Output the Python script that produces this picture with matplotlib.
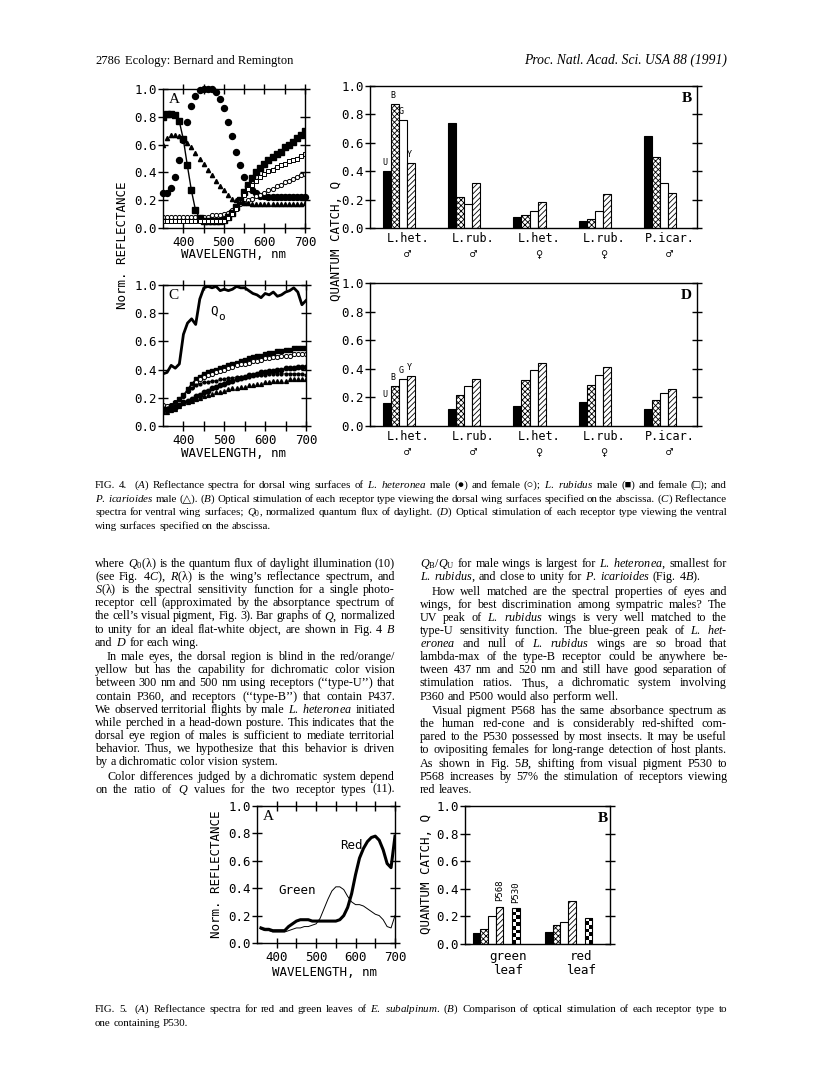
import numpy as np
import matplotlib
matplotlib.use("Agg")
import matplotlib.pyplot as plt

W, H = 816, 1082
plt.rcParams['mathtext.fontset'] = 'custom'
plt.rcParams['mathtext.rm'] = 'Liberation Serif'
plt.rcParams['mathtext.it'] = 'Liberation Serif:italic'
plt.rcParams['mathtext.bf'] = 'Liberation Serif:bold'
plt.rcParams['hatch.linewidth'] = 0.6

MONO = ['DejaVu Sans Mono', 'DejaVu Sans']
SERIF = ['Liberation Serif', 'DejaVu Serif', 'DejaVu Sans']

# ---- Fig 4A / 4C: reflectance spectra (nm, normalized) ----
wl = [350, 360, 370, 380, 390, 400, 410, 420, 430, 440, 450, 460, 470, 480,
      490, 500, 510, 520, 530, 540, 550, 560, 570, 580, 590, 600, 610, 620,
      630, 640, 650, 660, 670, 680, 690, 700]

# dorsal (4A)
het_m_dorsal = [0.25, 0.25, 0.29, 0.37, 0.49, 0.63, 0.76, 0.88, 0.95, 0.99, 1.00, 1.00,
                1.00, 0.98, 0.93, 0.86, 0.76, 0.66, 0.55, 0.45, 0.37, 0.30, 0.27, 0.25,
                0.23, 0.23, 0.22, 0.22, 0.22, 0.22, 0.22, 0.22, 0.22, 0.22, 0.22, 0.22]
het_f_dorsal = [0.08, 0.08, 0.08, 0.08, 0.08, 0.08, 0.08, 0.08, 0.08, 0.08, 0.08, 0.08,
                0.09, 0.09, 0.09, 0.10, 0.11, 0.13, 0.15, 0.17, 0.18, 0.20, 0.21, 0.23,
                0.24, 0.25, 0.27, 0.28, 0.30, 0.31, 0.33, 0.34, 0.35, 0.37, 0.38, 0.39]
rub_m_dorsal = [0.80, 0.82, 0.82, 0.81, 0.77, 0.64, 0.45, 0.27, 0.13, 0.07, 0.05, 0.05,
                0.05, 0.05, 0.05, 0.06, 0.08, 0.11, 0.15, 0.20, 0.26, 0.31, 0.36, 0.40,
                0.43, 0.46, 0.49, 0.51, 0.53, 0.55, 0.58, 0.60, 0.62, 0.65, 0.67, 0.70]
rub_f_dorsal = [0.05, 0.05, 0.05, 0.05, 0.05, 0.05, 0.05, 0.05, 0.05, 0.05, 0.05, 0.05,
                0.05, 0.05, 0.05, 0.05, 0.07, 0.10, 0.14, 0.19, 0.24, 0.28, 0.31, 0.34,
                0.37, 0.39, 0.41, 0.42, 0.44, 0.45, 0.46, 0.48, 0.49, 0.50, 0.52, 0.53]
icar_dorsal = [0.60, 0.65, 0.67, 0.67, 0.66, 0.64, 0.61, 0.58, 0.54, 0.50, 0.46, 0.42,
               0.38, 0.34, 0.30, 0.27, 0.24, 0.21, 0.20, 0.19, 0.18, 0.18, 0.17, 0.17,
               0.17, 0.17, 0.17, 0.17, 0.17, 0.17, 0.17, 0.17, 0.17, 0.17, 0.17, 0.18]

# ventral (4C)
q0_daylight = [0.37, 0.38, 0.43, 0.41, 0.44, 0.65, 0.73, 0.76, 0.72, 0.90, 0.98, 0.99,
               0.98, 0.99, 0.96, 0.97, 0.96, 0.97, 0.99, 0.98, 0.98, 0.96, 0.94, 0.93,
               0.91, 0.94, 0.93, 0.95, 0.92, 0.93, 0.95, 0.96, 0.98, 0.95, 0.86, 0.89]
rub_m_ventral = [0.12, 0.12, 0.14, 0.16, 0.19, 0.22, 0.26, 0.30, 0.33, 0.35, 0.37, 0.38,
                 0.39, 0.40, 0.41, 0.42, 0.43, 0.44, 0.45, 0.46, 0.47, 0.48, 0.49, 0.50,
                 0.50, 0.51, 0.52, 0.52, 0.53, 0.53, 0.54, 0.54, 0.55, 0.55, 0.55, 0.55]
het_f_ventral = [0.15, 0.14, 0.15, 0.17, 0.19, 0.21, 0.25, 0.28, 0.31, 0.33, 0.35, 0.36,
                 0.37, 0.38, 0.39, 0.40, 0.41, 0.42, 0.43, 0.44, 0.44, 0.45, 0.46, 0.46,
                 0.47, 0.48, 0.48, 0.49, 0.49, 0.50, 0.50, 0.50, 0.51, 0.51, 0.51, 0.51]
het_m_ventral = [0.11, 0.11, 0.12, 0.13, 0.15, 0.17, 0.18, 0.19, 0.21, 0.22, 0.24, 0.25,
                 0.27, 0.28, 0.29, 0.30, 0.31, 0.32, 0.33, 0.34, 0.35, 0.36, 0.36, 0.37,
                 0.38, 0.38, 0.39, 0.39, 0.40, 0.40, 0.41, 0.41, 0.41, 0.42, 0.42, 0.42]
rub_f_ventral = [0.13, 0.13, 0.15, 0.17, 0.19, 0.21, 0.25, 0.27, 0.29, 0.30, 0.31, 0.31,
                 0.32, 0.32, 0.33, 0.33, 0.34, 0.34, 0.35, 0.35, 0.35, 0.35, 0.36, 0.36,
                 0.36, 0.36, 0.37, 0.37, 0.37, 0.37, 0.37, 0.37, 0.37, 0.37, 0.37, 0.36]
icar_ventral = [0.10, 0.10, 0.11, 0.12, 0.14, 0.16, 0.17, 0.18, 0.19, 0.20, 0.21, 0.22,
                0.23, 0.24, 0.24, 0.25, 0.26, 0.27, 0.27, 0.28, 0.28, 0.29, 0.29, 0.30,
                0.30, 0.31, 0.31, 0.32, 0.32, 0.32, 0.32, 0.33, 0.33, 0.33, 0.33, 0.33]

# ---- Fig 4B / 4D: quantum catch per receptor type ----
wing_labels = ['L.het.\n♂', 'L.rub.\n♂', 'L.het.\n♀', 'L.rub.\n♀', 'P.icar.\n♂']
receptor_letters = ['U', 'B', 'G', 'Y']
dorsal_U = [0.40, 0.74, 0.08, 0.05, 0.65]
dorsal_B = [0.87, 0.22, 0.09, 0.06, 0.50]
dorsal_G = [0.76, 0.17, 0.12, 0.12, 0.32]
dorsal_Y = [0.46, 0.32, 0.18, 0.24, 0.25]
ventral_U = [0.16, 0.12, 0.14, 0.17, 0.12]
ventral_B = [0.28, 0.22, 0.32, 0.29, 0.18]
ventral_G = [0.33, 0.28, 0.39, 0.36, 0.23]
ventral_Y = [0.35, 0.33, 0.44, 0.41, 0.26]

# ---- Fig 5A: leaf spectra ----
wl_leaf = [360, 370, 380, 390, 400, 410, 420, 430, 440, 450, 460, 470, 480, 490,
           500, 510, 520, 530, 540, 550, 560, 570, 580, 590, 600, 610, 620, 630,
           640, 650, 660, 670, 680, 690, 700]
red_leaf = [0.11, 0.10, 0.10, 0.09, 0.09, 0.09, 0.09, 0.12, 0.14, 0.16, 0.17, 0.17,
            0.17, 0.16, 0.16, 0.16, 0.16, 0.16, 0.16, 0.16, 0.17, 0.20, 0.26, 0.36,
            0.50, 0.62, 0.69, 0.74, 0.77, 0.78, 0.75, 0.68, 0.58, 0.55, 0.78]
green_leaf = [0.10, 0.09, 0.09, 0.08, 0.08, 0.08, 0.08, 0.09, 0.10, 0.11, 0.11, 0.12,
              0.12, 0.13, 0.14, 0.18, 0.25, 0.32, 0.38, 0.41, 0.41, 0.39, 0.34, 0.30,
              0.28, 0.28, 0.27, 0.25, 0.23, 0.21, 0.20, 0.17, 0.12, 0.11, 0.20]

# ---- Fig 5B ----
leaf_labels = ['green\nleaf', 'red\nleaf']
leaf_U = [0.08, 0.09]
leaf_B = [0.11, 0.14]
leaf_G = [0.20, 0.16]
leaf_Y = [0.27, 0.31]
leaf_P530 = [0.26, 0.19]

fig = plt.figure(figsize=(W / 100, H / 100), dpi=100)


def px_axes(x0, y0, x1, y1):
    return fig.add_axes([x0 / W, 1 - y1 / H, (x1 - x0) / W, (y1 - y0) / H])


def ftext(x, y, s, **kw):
    return fig.text(x / W, 1 - y / H, s, **kw)


def style_frame(ax):
    for sp in ax.spines.values():
        sp.set_linewidth(1.0)
    ax.set_ylim(0, 1)
    ax.set_yticks([0, 0.2, 0.4, 0.6, 0.8, 1.0])
    ax.set_yticklabels(['0.0', '0.2', '0.4', '0.6', '0.8', '1.0'], family=MONO, fontsize=9)
    ax.tick_params(axis='y', direction='inout', length=7, width=1, right=True, pad=1)


def spectra_axes(x0, y0, x1, y1, letter):
    ax = px_axes(x0, y0, x1, y1)
    style_frame(ax)
    ax.set_xlim(350, 700)
    ax.set_xticks([400, 500, 600, 700])
    ax.set_xticklabels(['400', '500', '600', '700'], family=MONO, fontsize=9)
    ax.set_xticks([450, 550, 650], minor=True)
    ax.tick_params(axis='x', which='both', direction='inout', length=7, width=1, top=True, pad=2)
    ax.text(0.04, 0.97, letter, transform=ax.transAxes, family=SERIF, fontsize=11,
            va='top', ha='left')
    return ax


def bar_axes(x0, y0, x1, y1, letter):
    ax = px_axes(x0, y0, x1, y1)
    style_frame(ax)
    ax.text(0.985, 0.96, letter, transform=ax.transAxes, family=SERIF, fontsize=11,
            va='top', ha='right', fontweight='bold')
    return ax


def wavelength_label(xc, y):
    ftext(xc, y, 'WAVELENGTH, nm', family=MONO, fontsize=9, ha='center', va='center')


# ---------------- Fig 4A ----------------
axA = spectra_axes(163, 89, 305, 228, 'A')
axA.plot(wl, het_m_dorsal, ls='none', marker='o', ms=4.3, color='black', clip_on=False)
axA.plot(wl, het_f_dorsal, ls='none', marker='o', ms=3.0, mfc='white', mec='black', mew=0.7)
axA.plot(wl, rub_m_dorsal, ls='-', lw=1.0, marker='s', ms=4.0, color='black')
axA.plot(wl, rub_f_dorsal, ls='-', lw=0.8, marker='s', ms=2.8, mfc='white', mec='black',
         color='black', mew=0.7)
axA.plot(wl, icar_dorsal, ls='none', marker='^', ms=3.0, color='black')
wavelength_label(234, 254)

# ---------------- Fig 4C ----------------
axC = spectra_axes(163, 285, 306, 426, 'C')
axC.plot(wl, q0_daylight, color='black', lw=2.0)
axC.plot(wl, rub_m_ventral, ls='-', lw=0.8, marker='s', ms=3.2, color='black')
axC.plot(wl, het_f_ventral, ls='none', marker='o', ms=3.0, mfc='white', mec='black', mew=0.7)
axC.plot(wl, het_m_ventral, ls='-', lw=0.8, marker='o', ms=3.2, color='black')
axC.plot(wl, rub_f_ventral, ls='-', lw=0.6, marker='o', ms=2.0, color='black')
axC.plot(wl, icar_ventral, ls='none', marker='^', ms=2.8, color='black')
axC.text(474, 0.815, 'Q', family=MONO, fontsize=9, ha='center', va='center')
axC.text(494, 0.775, 'o', family=MONO, fontsize=8, ha='center', va='center')
wavelength_label(234, 453)

ftext(122, 245, 'Norm. REFLECTANCE', family=MONO, fontsize=9, rotation=90,
      ha='center', va='center')

# ---------------- Fig 4B / 4D ----------------
bar_w = 0.1225
bar_off = 0.194
bar_styles = [dict(color='black', edgecolor='black'),
              dict(facecolor='white', edgecolor='black', hatch='xxxxxx'),
              dict(facecolor='white', edgecolor='black'),
              dict(facecolor='white', edgecolor='black', hatch='//////')]


def quantum_bars(ax, series, labels):
    pos = np.arange(len(labels))
    ax.set_xlim(0, len(labels))
    for k, (vals, st) in enumerate(zip(series, bar_styles)):
        bars = ax.bar(pos + bar_off + k * bar_w, vals, width=bar_w, align='edge',
                      linewidth=0.8, **st)
        rect = bars[0]
        ax.annotate(receptor_letters[k], (rect.get_x() + rect.get_width() / 2, rect.get_height()),
                    xytext=(-1, 3), textcoords='offset points', ha='center', va='bottom',
                    family=MONO, fontsize=6)
    ax.set_xticks(pos + 0.58)
    ax.set_xticklabels(labels, family=MONO, fontsize=8.5, linespacing=1.25)
    ax.tick_params(axis='x', length=0, pad=3)


axB = bar_axes(370, 86, 697, 228, 'B')
quantum_bars(axB, [dorsal_U, dorsal_B, dorsal_G, dorsal_Y], wing_labels)
axD = bar_axes(370, 283, 697, 426, 'D')
quantum_bars(axD, [ventral_U, ventral_B, ventral_G, ventral_Y], wing_labels)
ftext(336, 241, 'QUANTUM CATCH, Q', family=MONO, fontsize=9, rotation=90,
      ha='center', va='center')

# ---------------- Fig 5A ----------------
ax5A = spectra_axes(257, 806, 395, 943, 'A')
ax5A.plot(wl_leaf, green_leaf, color='black', lw=0.7)
ax5A.plot(wl_leaf, red_leaf, color='black', lw=2.2)
ax5A.text(617, 0.71, 'Red', family=MONO, fontsize=9, ha='right', va='center')
ax5A.text(500, 0.38, 'Green', family=MONO, fontsize=9, ha='right', va='center')
wavelength_label(325, 973)
ftext(216, 874, 'Norm. REFLECTANCE', family=MONO, fontsize=9, rotation=90,
      ha='center', va='center')

# ---------------- Fig 5B ----------------
ax5B = bar_axes(465, 806, 610, 944, 'B')
lpos = np.arange(len(leaf_labels))
ax5B.set_xlim(0, len(leaf_labels))
lw_bar = 0.105
loff = 0.106
for k, (vals, st) in enumerate(zip([leaf_U, leaf_B, leaf_G, leaf_Y], bar_styles)):
    ax5B.bar(lpos + loff + k * lw_bar, vals, width=lw_bar, align='edge', linewidth=0.8, **st)
chk = ax5B.bar(lpos + loff + 5.2 * lw_bar, leaf_P530, width=lw_bar, align='edge',
               facecolor='none', edgecolor='black', linewidth=0.8, zorder=2)
for rect in chk:
    x, y0 = rect.get_x(), rect.get_y()
    w, h = rect.get_width(), rect.get_height()
    n = max(2, int(round(h / 0.027)))
    board = np.add.outer(np.arange(n), np.arange(2)) % 2
    im = ax5B.imshow(board, cmap='gray_r', extent=(x, x + w, y0, y0 + h), aspect='auto',
                     interpolation='nearest', zorder=1)
    im.set_clip_path(rect)
ax5B.set_xlim(0, len(leaf_labels))
ax5B.set_ylim(0, 1)
ax5B.text(lpos[0] + loff + 3.5 * lw_bar, leaf_Y[0] + 0.04, 'P568', rotation=90,
          family=MONO, fontsize=6.5, ha='center', va='bottom')
ax5B.text(lpos[0] + loff + 5.7 * lw_bar, leaf_P530[0] + 0.04, 'P530', rotation=90,
          family=MONO, fontsize=6.5, ha='center', va='bottom')
ax5B.set_xticks(lpos + 0.6)
ax5B.set_xticklabels(leaf_labels, family=MONO, fontsize=9, linespacing=1.1)
ax5B.tick_params(axis='x', length=0, pad=4)
ftext(427, 874, 'QUANTUM CATCH, Q', family=MONO, fontsize=9, rotation=90,
      ha='center', va='center')

# ---------------- running text ----------------
renderer = fig.canvas.get_renderer()


def put_line(s, x0, x1, y, size, justify):
    words = s.split(' ')
    while True:
        objs = [ftext(x0, y, w, family=SERIF, fontsize=size, va='baseline', ha='left')
                for w in words]
        widths = [t.get_window_extent(renderer).width if w else 0
                  for t, w in zip(objs, words)]
        gap = size * 0.25 * 100 / 72
        if justify and len(objs) > 1:
            gap = (x1 - x0 - sum(widths)) / (len(objs) - 1)
        if gap >= 1.6 or size < 6:
            break
        # too tight: shrink this line a little and try again
        for t in objs:
            t.remove()
        size -= 0.15
    x = x0
    for t, wd in zip(objs, widths):
        t.set_x(x / W)
        x += wd + gap


def put_block(paragraphs, x0, x1, y, size, dy, para_gap, indent=12):
    for lines, indented, last_just in paragraphs:
        for i, line in enumerate(lines):
            xs = x0 + (indent if (indented and i == 0) else 0)
            just = (i < len(lines) - 1) or last_just
            put_line(line, xs, x1, y, size, just)
            y += dy
        y += para_gap


ftext(95, 64, '2786', family=SERIF, fontsize=9, va='baseline')
ftext(125, 64, 'Ecology: Bernard and Remington', family=SERIF, fontsize=9, va='baseline')
ftext(727, 64, 'Proc. Natl. Acad. Sci. USA 88 (1991)', family=SERIF, fontsize=9.8,
      style='italic', va='baseline', ha='right')

caption4 = [
    'FIG. 4.  ($A$) Reflectance spectra for dorsal wing surfaces of $L.$ $heteronea$ male (●) and female (○); $L.$ $rubidus$ male (■) and female (□); and',
    '$P.$ $icarioides$ male (△). ($B$) Optical stimulation of each receptor type viewing the dorsal wing surfaces specified on the abscissa. ($C$) Reflectance',
    'spectra for ventral wing surfaces; $Q_0$, normalized quantum flux of daylight. ($D$) Optical stimulation of each receptor type viewing the ventral',
    'wing surfaces specified on the abscissa.',
]
put_block([(caption4, False, False)], 95, 727, 488, 7.9, 13.6, 0)

left_col = [
    (['where $Q_0$(λ) is the quantum flux of daylight illumination (10)',
      '(see Fig. 4$C$), $R$(λ) is the wing’s reflectance spectrum, and',
      '$S$(λ) is the spectral sensitivity function for a single photo-',
      'receptor cell (approximated by the absorptance spectrum of',
      'the cell’s visual pigment, Fig. 3). Bar graphs of $Q$, normalized',
      'to unity for an ideal flat-white object, are shown in Fig. 4 $B$',
      'and $D$ for each wing.'], False, False),
    (['In male eyes, the dorsal region is blind in the red/orange/',
      'yellow but has the capability for dichromatic color vision',
      'between 300 nm and 500 nm using receptors (‘‘type-U’’) that',
      'contain P360, and receptors (‘‘type-B’’) that contain P437.',
      'We observed territorial flights by male $L.$ $heteronea$ initiated',
      'while perched in a head-down posture. This indicates that the',
      'dorsal eye region of males is sufficient to mediate territorial',
      'behavior. Thus, we hypothesize that this behavior is driven',
      'by a dichromatic color vision system.'], True, False),
    (['Color differences judged by a dichromatic system depend',
      'on the ratio of $Q$ values for the two receptor types (11).'], True, True),
]
right_col = [
    (['$Q_\\mathrm{B}/Q_\\mathrm{U}$ for male wings is largest for $L.$ $heteronea$, smallest for',
      '$L.$ $rubidus$, and close to unity for $P.$ $icarioides$ (Fig. 4$B$).'], False, False),
    (['How well matched are the spectral properties of eyes and',
      'wings, for best discrimination among sympatric males? The',
      'UV peak of $L.$ $rubidus$ wings is very well matched to the',
      'type-U sensitivity function. The blue-green peak of $L.$ $het$-',
      '$eronea$ and null of $L.$ $rubidus$ wings are so broad that',
      'lambda-max of the type-B receptor could be anywhere be-',
      'tween 437 nm and 520 nm and still have good separation of',
      'stimulation ratios. Thus, a dichromatic system involving',
      'P360 and P500 would also perform well.'], True, False),
    (['Visual pigment P568 has the same absorbance spectrum as',
      'the human red-cone and is considerably red-shifted com-',
      'pared to the P530 possessed by most insects. It may be useful',
      'to ovipositing females for long-range detection of host plants.',
      'As shown in Fig. 5$B$, shifting from visual pigment P530 to',
      'P568 increases by $57\\%$ the stimulation of receptors viewing',
      'red leaves.'], True, False),
]
put_block(left_col, 95, 395, 567, 8.7, 13.1, 1.5)
put_block(right_col, 420, 727, 567, 8.7, 13.1, 1.5)

caption5 = [
    'FIG. 5.  ($A$) Reflectance spectra for red and green leaves of $E.$ $subalpinum$. ($B$) Comparison of optical stimulation of each receptor type to',
    'one containing P530.',
]
put_block([(caption5, False, False)], 95, 727, 1012, 7.9, 13.6, 0)

fig.savefig('out.png', dpi=100)
